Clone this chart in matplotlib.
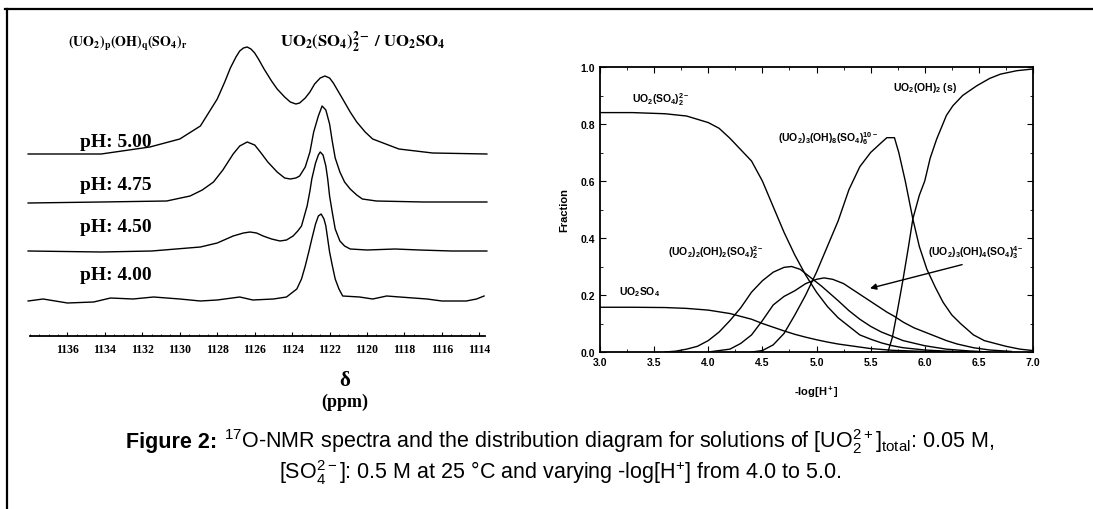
import numpy as np
import matplotlib
matplotlib.use('Agg')
import matplotlib.pyplot as plt
from matplotlib.lines import Line2D
from matplotlib.ticker import MultipleLocator, FormatStrFormatter

plt.rcParams['mathtext.fontset'] = 'custom'
plt.rcParams['mathtext.rm'] = 'Liberation Sans'
plt.rcParams['mathtext.bf'] = 'Liberation Sans:bold'
plt.rcParams['mathtext.it'] = 'Liberation Sans:italic'

W, H = 1093, 510

# ---- 17O NMR spectra (ppm, height above own baseline) ----
ph_labels = ['pH: 5.00', 'pH: 4.75', 'pH: 4.50', 'pH: 4.00']

ppm_500 = [1138.1, 1134.2, 1131.6, 1130.0, 1128.9, 1128.5, 1128.0, 1127.6, 1127.3, 1127.0,
           1126.8, 1126.6, 1126.4, 1126.2, 1126.0, 1125.8, 1125.5, 1125.1, 1124.8, 1124.4,
           1124.1, 1123.8, 1123.6, 1123.3, 1123.05, 1122.8, 1122.5, 1122.25, 1122.0, 1121.8,
           1121.55, 1121.3, 1120.9, 1120.55, 1120.1, 1119.7, 1118.3, 1116.5, 1113.6]
int_500 = [0, 0, 7, 15, 28, 40, 55, 72, 86, 97,
           103, 106, 107, 105, 101, 95, 85, 73, 65, 57,
           52, 50, 51, 56, 62, 70, 76, 78, 76, 71,
           63, 55, 42, 32, 22, 15, 5, 1, 0]

ppm_475 = [1138.1, 1134.2, 1130.7, 1129.45, 1128.8, 1128.2, 1127.7, 1127.15, 1126.8, 1126.4,
           1126.0, 1125.7, 1125.3, 1124.8, 1124.4, 1124.1, 1123.8, 1123.6, 1123.3, 1123.05,
           1122.85, 1122.6, 1122.4, 1122.2, 1122.0, 1121.85, 1121.7, 1121.45, 1121.2, 1120.9,
           1120.55, 1120.25, 1119.5, 1117.0, 1113.6]
int_475 = [-1, 0, 1, 6, 12, 20, 32, 48, 56, 60,
           57, 50, 40, 30, 24, 23, 24, 26, 35, 50,
           70, 86, 96, 92, 78, 60, 44, 30, 20, 13,
           7, 3, 1, 0, 0]

ppm_450 = [1138.1, 1134.2, 1131.5, 1128.9, 1128.0, 1127.15, 1126.6, 1126.25, 1125.9, 1125.55,
           1125.1, 1124.65, 1124.3, 1123.95, 1123.7, 1123.5, 1123.35, 1123.2, 1123.05, 1122.95,
           1122.75, 1122.6, 1122.5, 1122.35, 1122.2, 1122.1, 1122.0, 1121.85, 1121.7, 1121.45,
           1121.2, 1120.9, 1120.0, 1118.5, 1117.2, 1115.5, 1113.6]
int_450 = [0, -1, 0, 4, 8, 15, 18, 19, 18, 15,
           12, 10, 11, 15, 20, 25, 35, 45, 60, 72,
           88, 96, 99, 96, 85, 72, 55, 38, 22, 10,
           5, 2, 1, 2, 1, 0, 0]

ppm_400 = [1138.1, 1137.3, 1136.0, 1134.6, 1133.7, 1132.5, 1131.4, 1130.0, 1128.9, 1128.0,
           1126.8, 1126.1, 1125.0, 1124.3, 1123.75, 1123.5, 1123.3, 1123.1, 1122.95, 1122.75,
           1122.6, 1122.45, 1122.3, 1122.2, 1122.1, 1122.0, 1121.85, 1121.7, 1121.5, 1121.3,
           1120.4, 1119.7, 1118.95, 1118.25, 1116.8, 1116.0, 1114.7, 1114.15, 1113.75]
int_400 = [-2, 0, -4, -3, 1, 0, 2, 0, -2, -1,
           2, -1, 0, 2, 10, 20, 33, 48, 60, 75,
           83, 85, 80, 73, 60, 47, 33, 20, 10, 3,
           2, 0, 3, 2, 0, -2, -2, 0, 3]

nmr_ticks = np.arange(1136, 1113, -2)

# ---- speciation diagram (-log[H+], fraction) ----
x_a = [3.0, 3.3, 3.6, 3.8, 4.0, 4.1, 4.2, 4.3, 4.4, 4.5, 4.6, 4.7, 4.8, 4.9, 5.0, 5.1,
       5.2, 5.3, 5.4, 5.5, 5.6, 5.7, 5.8, 6.0, 6.2, 6.5]
y_a = [0.840, 0.840, 0.836, 0.828, 0.805, 0.785, 0.75, 0.71, 0.67, 0.60, 0.51, 0.42, 0.34,
       0.27, 0.21, 0.16, 0.12, 0.09, 0.06, 0.045, 0.032, 0.022, 0.015, 0.007, 0.003, 0.0]

x_b = [3.0, 3.3, 3.6, 3.8, 4.0, 4.2, 4.4, 4.5, 4.6, 4.7, 4.8, 4.9, 5.0, 5.1, 5.2, 5.35,
       5.5, 5.7, 6.0, 6.3]
y_b = [0.157, 0.157, 0.156, 0.153, 0.147, 0.135, 0.115, 0.10, 0.087, 0.074, 0.062, 0.052,
       0.043, 0.035, 0.028, 0.02, 0.012, 0.006, 0.002, 0.0]

x_c = [3.6, 3.7, 3.8, 3.9, 4.0, 4.1, 4.2, 4.3, 4.4, 4.5, 4.6, 4.7, 4.77, 4.85, 4.95, 5.05,
       5.2, 5.3, 5.4, 5.5, 5.6, 5.8, 6.0, 6.2, 6.4, 6.6]
y_c = [0.0, 0.003, 0.01, 0.02, 0.04, 0.07, 0.11, 0.155, 0.21, 0.25, 0.28, 0.297, 0.30, 0.29,
       0.26, 0.23, 0.18, 0.145, 0.115, 0.09, 0.07, 0.04, 0.022, 0.01, 0.004, 0.0]

x_d = [4.0, 4.2, 4.3, 4.4, 4.5, 4.6, 4.7, 4.8, 4.9, 5.0, 5.07, 5.15, 5.25, 5.35, 5.45, 5.55,
       5.65, 5.72, 5.8, 5.9, 6.0, 6.1, 6.2, 6.3, 6.45, 6.6, 6.8]
y_d = [0.0, 0.01, 0.03, 0.06, 0.11, 0.165, 0.195, 0.215, 0.24, 0.255, 0.26, 0.255, 0.24,
       0.215, 0.19, 0.165, 0.14, 0.125, 0.105, 0.085, 0.07, 0.055, 0.04, 0.028, 0.015, 0.007,
       0.002]

x_e = [4.4, 4.5, 4.6, 4.7, 4.8, 4.9, 5.0, 5.1, 5.2, 5.3, 5.4, 5.5, 5.6, 5.65, 5.72, 5.76,
       5.82, 5.89, 5.95, 6.02, 6.1, 6.17, 6.25, 6.33, 6.45, 6.55, 6.63, 6.75, 6.88, 7.0]
y_e = [0.0, 0.005, 0.025, 0.065, 0.13, 0.2, 0.28, 0.37, 0.46, 0.57, 0.65, 0.70, 0.735, 0.752,
       0.752, 0.70, 0.60, 0.467, 0.37, 0.29, 0.225, 0.174, 0.13, 0.10, 0.06, 0.04, 0.032,
       0.02, 0.01, 0.005]

x_f = [5.66, 5.7, 5.75, 5.8, 5.85, 5.89, 5.95, 6.0, 6.05, 6.11, 6.2, 6.26, 6.35, 6.48, 6.6,
       6.7, 6.85, 7.0]
y_f = [0.0, 0.05, 0.15, 0.256, 0.37, 0.467, 0.55, 0.60, 0.68, 0.747, 0.83, 0.864, 0.90,
       0.934, 0.96, 0.975, 0.987, 0.993]


def px(x, y):
    return x / W, 1 - y / H


fig = plt.figure(figsize=(W / 100, H / 100), dpi=100)

# frame of the scanned figure
fig.add_artist(Line2D([5 / W, 1], [1 - 10 / H] * 2, transform=fig.transFigure, color='k', lw=1.6))
fig.add_artist(Line2D([7 / W] * 2, [0, 1 - 10 / H], transform=fig.transFigure, color='k', lw=1.6))

# ---- left panel: stacked spectra ----
ax1 = fig.add_axes([30 / W, 1 - 337 / H, 455 / W, 307 / H])
offsets = [182, 134, 85, 37]
for ppm, inten, off in zip([ppm_500, ppm_475, ppm_450, ppm_400],
                           [int_500, int_475, int_450, int_400], offsets):
    ax1.plot(ppm, np.array(inten) + off, color='k', lw=1.0, clip_on=False)
ax1.set_xlim(1138.0, 1113.7)
ax1.set_ylim(0, 307)
for s in ['left', 'right', 'top']:
    ax1.spines[s].set_visible(False)
ax1.spines['bottom'].set_linewidth(1.3)
ax1.set_yticks([])
ax1.set_xticks(nmr_ticks)
ax1.xaxis.set_minor_locator(MultipleLocator(0.5))
ax1.tick_params(axis='x', which='major', direction='in', length=3, pad=5, labelsize=8.5)
ax1.tick_params(axis='x', which='minor', direction='in', length=1.5)
for lab in ax1.get_xticklabels():
    lab.set_family('Liberation Serif')
    lab.set_weight('bold')

serif = dict(family='Liberation Serif', weight='bold')
for lab, yb in zip(ph_labels, [147, 190, 232, 280]):
    fig.text(*px(80, yb), lab, fontsize=14, va='baseline', **serif)
fig.text(*px(68, 47), r'$\mathbf{(UO_2)_p(OH)_q(SO_4)_r}$', math_fontfamily='stix',
         fontsize=10, va='baseline')
fig.text(*px(280, 47), r'$\mathbf{UO_2(SO_4)_2^{2-}\ /\ UO_2SO_4}$', math_fontfamily='stix',
         fontsize=12, va='baseline')
fig.text(*px(345, 386), 'δ', fontsize=15, ha='center', va='baseline', **serif)
fig.text(*px(345, 407), '(ppm)', fontsize=13, ha='center', va='baseline', **serif)

# ---- right panel: distribution diagram ----
ax2 = fig.add_axes([600 / W, 1 - 353 / H, 433 / W, 285 / H])
for xs, ys in [(x_a, y_a), (x_b, y_b), (x_c, y_c), (x_d, y_d), (x_e, y_e), (x_f, y_f)]:
    ax2.plot(xs, ys, color='k', lw=1.0)
ax2.set_xlim(3, 7)
ax2.set_ylim(0, 1)
ax2.xaxis.set_major_locator(MultipleLocator(0.5))
ax2.xaxis.set_minor_locator(MultipleLocator(0.25))
ax2.yaxis.set_major_locator(MultipleLocator(0.2))
ax2.yaxis.set_minor_locator(MultipleLocator(0.1))
ax2.xaxis.set_major_formatter(FormatStrFormatter('%.1f'))
ax2.yaxis.set_major_formatter(FormatStrFormatter('%.1f'))
ax2.tick_params(which='both', direction='in', top=True, right=True, labelsize=7.5)
ax2.tick_params(which='major', length=4)
ax2.tick_params(which='minor', length=2)
for s in ax2.spines.values():
    s.set_linewidth(1.3)
for lab in ax2.get_xticklabels() + ax2.get_yticklabels():
    lab.set_family('Liberation Sans')
    lab.set_weight('bold')
ax2.set_ylabel('Fraction', fontsize=8, weight='bold', family='Liberation Sans', labelpad=8)
ax2.set_xlabel(r'-log[H$\mathbf{^+}$]', fontsize=8, weight='bold', family='Liberation Sans',
               labelpad=12)

sp = dict(fontsize=7.5, weight='bold', family='Liberation Sans', va='center')
ax2.text(3.30, 0.888, r'$\mathbf{UO_2(SO_4)_2^{2-}}$', **sp)
ax2.text(4.64, 0.751, r'$\mathbf{(UO_2)_3(OH)_8(SO_4)_6^{10-}}$', **sp)
ax2.text(5.71, 0.930, r'$\mathbf{UO_2(OH)_2\ (s)}$', **sp)
ax2.text(3.63, 0.351, r'$\mathbf{(UO_2)_2(OH)_2(SO_4)_2^{2-}}$', **sp)
ax2.text(3.18, 0.214, r'$\mathbf{UO_2SO_4}$', **sp)
ax2.text(6.03, 0.354, r'$\mathbf{(UO_2)_3(OH)_4(SO_4)_3^{4-}}$', **sp)
ax2.annotate('', xy=(5.47, 0.221), xytext=(6.37, 0.309),
             arrowprops=dict(arrowstyle='-|>', color='k', lw=1.0, mutation_scale=9))

# ---- caption: bold "Figure 2:" followed by regular text, centred ----
cap = dict(family=['Liberation Sans Narrow', 'Liberation Sans'], fontsize=15.5, ha='left',
           va='baseline')
renderer = fig.canvas.get_renderer()
t_bold = fig.text(0, 1 - 448 / H, 'Figure 2:', weight='bold', **cap)
t_rest = fig.text(0, 1 - 448 / H,
                  r'$^{17}$O-NMR spectra and the distribution diagram for '
                  r'solutions of [UO$_2^{2+}$]$_{\mathrm{total}}$: 0.05 M,', **cap)
w1 = t_bold.get_window_extent(renderer).width
w2 = t_rest.get_window_extent(renderer).width
gap = 6
x0 = 560 - (w1 + gap + w2) / 2
t_bold.set_x(x0 / W)
t_rest.set_x((x0 + w1 + gap) / W)

cap['ha'] = 'center'
fig.text(*px(560, 479),
         r'[SO$_4^{2-}$]: 0.5 M at 25 °C and varying -log[H$^{+}$] from 4.0 to 5.0.', **cap)

fig.savefig('out.png', dpi=100)
